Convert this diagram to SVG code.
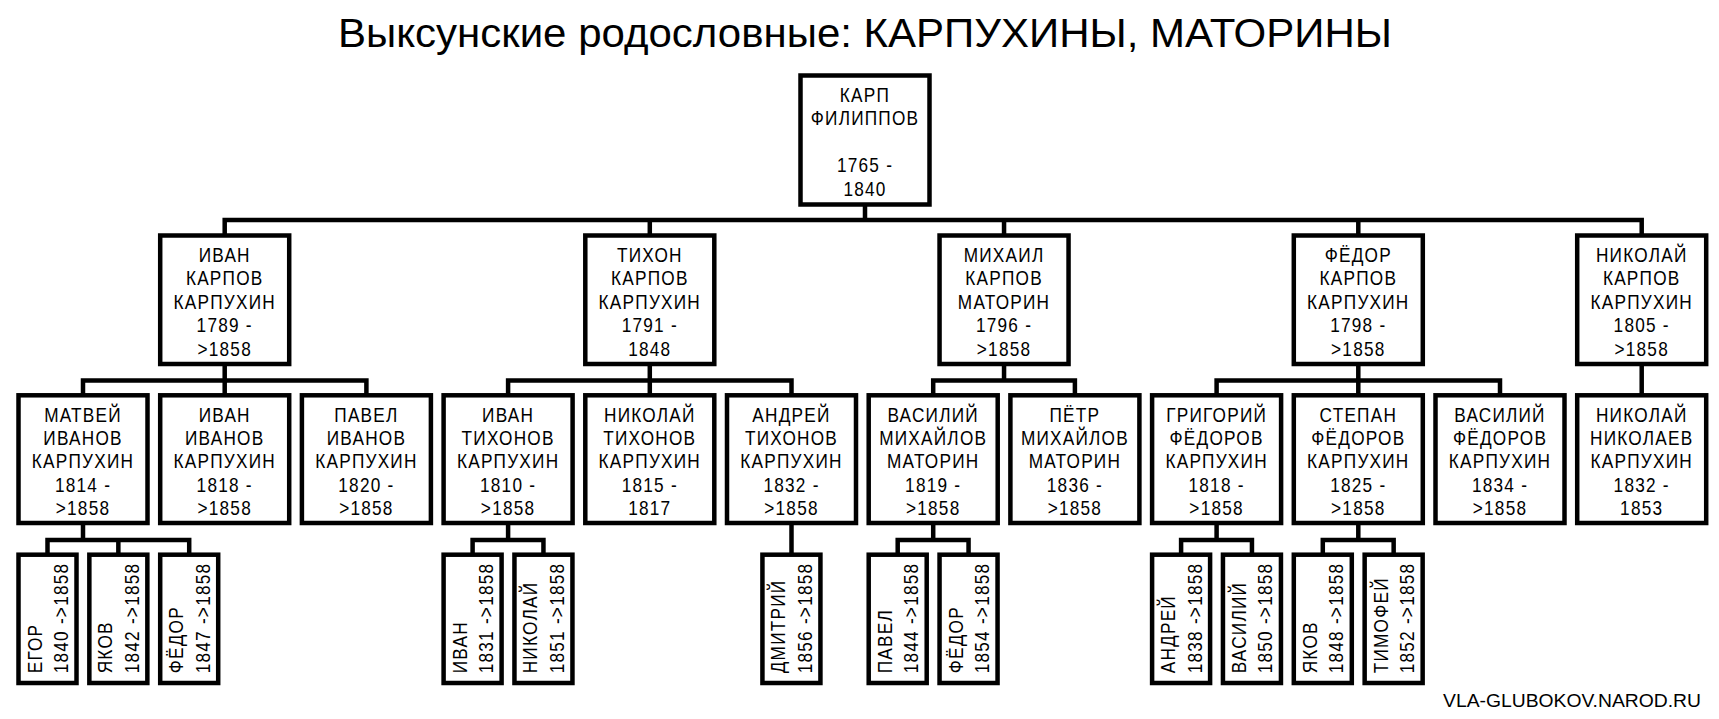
<svg xmlns="http://www.w3.org/2000/svg" width="1719" height="719" viewBox="0 0 1719 719">
<style>
.box{fill:#fff;stroke:#000;stroke-width:4.5}
.t{font-family:"Liberation Sans",Arial,sans-serif;font-size:21px;fill:#000;text-anchor:middle;letter-spacing:1.5px}
.v{font-family:"Liberation Sans",Arial,sans-serif;font-size:21px;fill:#000;letter-spacing:1.5px}
.title{font-family:"Liberation Sans",Arial,sans-serif;font-size:41px;fill:#000;text-anchor:middle}
.wm{font-family:"Liberation Sans",Arial,sans-serif;font-size:18px;fill:#000}
.c{fill:none;stroke:#000;stroke-width:4.5;stroke-linejoin:miter}
</style>
<rect width="1719" height="719" fill="#fff"/>
<text class="title" x="865" y="47" textLength="1054" lengthAdjust="spacingAndGlyphs">Выксунские родословные: КАРПУХИНЫ, МАТОРИНЫ</text>
<g id="connectors">
<path class="c" d="M865 205 V220 M224.7 235 V220 H1641.7 V235 M649.8 220 V235 M1004.05 220 V235 M1358.3 220 V235"/>
<path class="c" d="M224.7 364 V395 M83 395 V380.5 H366.4 V395"/>
<path class="c" d="M649.8 364 V395 M508.1 395 V380.5 H791.5 V395"/>
<path class="c" d="M1004.05 364 V380.5 M933.2 395 V380.5 H1074.9 V395"/>
<path class="c" d="M1358.3 364 V395 M1216.6 395 V380.5 H1500 V395"/>
<path class="c" d="M1641.7 364 V395"/>
<path class="c" d="M83 523 V540 M47.5 554 V540 H189.2 V554 M118.35 540 V554"/>
<path class="c" d="M508.1 523 V540 M472.6 554 V540 H543.45 V554"/>
<path class="c" d="M791.5 523 V554"/>
<path class="c" d="M933.2 523 V540 M897.7 554 V540 H968.55 V554"/>
<path class="c" d="M1216.6 523 V540 M1181.1 554 V540 H1251.95 V554"/>
<path class="c" d="M1358.3 523 V540 M1322.8 554 V540 H1393.65 V554"/>
</g>
<g id="n-karp">
<rect class="box" x="800.5" y="75.5" width="129" height="129"/>
<g transform="translate(865 0) scale(0.82 1)"><text class="t" x="0" y="101.7">КАРП</text><text class="t" x="0" y="125">ФИЛИППОВ</text><text class="t" x="0" y="172.5">1765 -</text><text class="t" x="0" y="196">1840</text></g>
</g>
<g id="n-ivan-karpov">
<rect class="box" x="160.2" y="235.5" width="129" height="128.5"/>
<g transform="translate(224.7 0) scale(0.82 1)"><text class="t" x="0" y="262">ИВАН</text><text class="t" x="0" y="285.4">КАРПОВ</text><text class="t" x="0" y="308.8">КАРПУХИН</text><text class="t" x="0" y="332.2">1789 -</text><text class="t" x="0" y="355.6">&gt;1858</text></g>
</g>
<g id="n-tihon-karpov">
<rect class="box" x="585.3" y="235.5" width="129" height="128.5"/>
<g transform="translate(649.8 0) scale(0.82 1)"><text class="t" x="0" y="262">ТИХОН</text><text class="t" x="0" y="285.4">КАРПОВ</text><text class="t" x="0" y="308.8">КАРПУХИН</text><text class="t" x="0" y="332.2">1791 -</text><text class="t" x="0" y="355.6">1848</text></g>
</g>
<g id="n-mihail-karpov">
<rect class="box" x="939.55" y="235.5" width="129" height="128.5"/>
<g transform="translate(1004.05 0) scale(0.82 1)"><text class="t" x="0" y="262">МИХАИЛ</text><text class="t" x="0" y="285.4">КАРПОВ</text><text class="t" x="0" y="308.8">МАТОРИН</text><text class="t" x="0" y="332.2">1796 -</text><text class="t" x="0" y="355.6">&gt;1858</text></g>
</g>
<g id="n-fedor-karpov">
<rect class="box" x="1293.8" y="235.5" width="129" height="128.5"/>
<g transform="translate(1358.3 0) scale(0.82 1)"><text class="t" x="0" y="262">ФЁДОР</text><text class="t" x="0" y="285.4">КАРПОВ</text><text class="t" x="0" y="308.8">КАРПУХИН</text><text class="t" x="0" y="332.2">1798 -</text><text class="t" x="0" y="355.6">&gt;1858</text></g>
</g>
<g id="n-nikolay-karpov">
<rect class="box" x="1577.2" y="235.5" width="129" height="128.5"/>
<g transform="translate(1641.7 0) scale(0.82 1)"><text class="t" x="0" y="262">НИКОЛАЙ</text><text class="t" x="0" y="285.4">КАРПОВ</text><text class="t" x="0" y="308.8">КАРПУХИН</text><text class="t" x="0" y="332.2">1805 -</text><text class="t" x="0" y="355.6">&gt;1858</text></g>
</g>
<g id="n-matvey">
<rect class="box" x="18.5" y="395.3" width="129" height="127.7"/>
<g transform="translate(83 0) scale(0.82 1)"><text class="t" x="0" y="421.7">МАТВЕЙ</text><text class="t" x="0" y="445.1">ИВАНОВ</text><text class="t" x="0" y="468.5">КАРПУХИН</text><text class="t" x="0" y="491.9">1814 -</text><text class="t" x="0" y="515.3">&gt;1858</text></g>
</g>
<g id="n-ivan-ivanov">
<rect class="box" x="160.2" y="395.3" width="129" height="127.7"/>
<g transform="translate(224.7 0) scale(0.82 1)"><text class="t" x="0" y="421.7">ИВАН</text><text class="t" x="0" y="445.1">ИВАНОВ</text><text class="t" x="0" y="468.5">КАРПУХИН</text><text class="t" x="0" y="491.9">1818 -</text><text class="t" x="0" y="515.3">&gt;1858</text></g>
</g>
<g id="n-pavel-ivanov">
<rect class="box" x="301.9" y="395.3" width="129" height="127.7"/>
<g transform="translate(366.4 0) scale(0.82 1)"><text class="t" x="0" y="421.7">ПАВЕЛ</text><text class="t" x="0" y="445.1">ИВАНОВ</text><text class="t" x="0" y="468.5">КАРПУХИН</text><text class="t" x="0" y="491.9">1820 -</text><text class="t" x="0" y="515.3">&gt;1858</text></g>
</g>
<g id="n-ivan-tihonov">
<rect class="box" x="443.6" y="395.3" width="129" height="127.7"/>
<g transform="translate(508.1 0) scale(0.82 1)"><text class="t" x="0" y="421.7">ИВАН</text><text class="t" x="0" y="445.1">ТИХОНОВ</text><text class="t" x="0" y="468.5">КАРПУХИН</text><text class="t" x="0" y="491.9">1810 -</text><text class="t" x="0" y="515.3">&gt;1858</text></g>
</g>
<g id="n-nikolay-tihonov">
<rect class="box" x="585.3" y="395.3" width="129" height="127.7"/>
<g transform="translate(649.8 0) scale(0.82 1)"><text class="t" x="0" y="421.7">НИКОЛАЙ</text><text class="t" x="0" y="445.1">ТИХОНОВ</text><text class="t" x="0" y="468.5">КАРПУХИН</text><text class="t" x="0" y="491.9">1815 -</text><text class="t" x="0" y="515.3">1817</text></g>
</g>
<g id="n-andrey-tihonov">
<rect class="box" x="727" y="395.3" width="129" height="127.7"/>
<g transform="translate(791.5 0) scale(0.82 1)"><text class="t" x="0" y="421.7">АНДРЕЙ</text><text class="t" x="0" y="445.1">ТИХОНОВ</text><text class="t" x="0" y="468.5">КАРПУХИН</text><text class="t" x="0" y="491.9">1832 -</text><text class="t" x="0" y="515.3">&gt;1858</text></g>
</g>
<g id="n-vasiliy-mihaylov">
<rect class="box" x="868.7" y="395.3" width="129" height="127.7"/>
<g transform="translate(933.2 0) scale(0.82 1)"><text class="t" x="0" y="421.7">ВАСИЛИЙ</text><text class="t" x="0" y="445.1">МИХАЙЛОВ</text><text class="t" x="0" y="468.5">МАТОРИН</text><text class="t" x="0" y="491.9">1819 -</text><text class="t" x="0" y="515.3">&gt;1858</text></g>
</g>
<g id="n-petr-mihaylov">
<rect class="box" x="1010.4" y="395.3" width="129" height="127.7"/>
<g transform="translate(1074.9 0) scale(0.82 1)"><text class="t" x="0" y="421.7">ПЁТР</text><text class="t" x="0" y="445.1">МИХАЙЛОВ</text><text class="t" x="0" y="468.5">МАТОРИН</text><text class="t" x="0" y="491.9">1836 -</text><text class="t" x="0" y="515.3">&gt;1858</text></g>
</g>
<g id="n-grigoriy-fedorov">
<rect class="box" x="1152.1" y="395.3" width="129" height="127.7"/>
<g transform="translate(1216.6 0) scale(0.82 1)"><text class="t" x="0" y="421.7">ГРИГОРИЙ</text><text class="t" x="0" y="445.1">ФЁДОРОВ</text><text class="t" x="0" y="468.5">КАРПУХИН</text><text class="t" x="0" y="491.9">1818 -</text><text class="t" x="0" y="515.3">&gt;1858</text></g>
</g>
<g id="n-stepan-fedorov">
<rect class="box" x="1293.8" y="395.3" width="129" height="127.7"/>
<g transform="translate(1358.3 0) scale(0.82 1)"><text class="t" x="0" y="421.7">СТЕПАН</text><text class="t" x="0" y="445.1">ФЁДОРОВ</text><text class="t" x="0" y="468.5">КАРПУХИН</text><text class="t" x="0" y="491.9">1825 -</text><text class="t" x="0" y="515.3">&gt;1858</text></g>
</g>
<g id="n-vasiliy-fedorov">
<rect class="box" x="1435.5" y="395.3" width="129" height="127.7"/>
<g transform="translate(1500 0) scale(0.82 1)"><text class="t" x="0" y="421.7">ВАСИЛИЙ</text><text class="t" x="0" y="445.1">ФЁДОРОВ</text><text class="t" x="0" y="468.5">КАРПУХИН</text><text class="t" x="0" y="491.9">1834 -</text><text class="t" x="0" y="515.3">&gt;1858</text></g>
</g>
<g id="n-nikolay-nikolaev">
<rect class="box" x="1577.2" y="395.3" width="129" height="127.7"/>
<g transform="translate(1641.7 0) scale(0.82 1)"><text class="t" x="0" y="421.7">НИКОЛАЙ</text><text class="t" x="0" y="445.1">НИКОЛАЕВ</text><text class="t" x="0" y="468.5">КАРПУХИН</text><text class="t" x="0" y="491.9">1832 -</text><text class="t" x="0" y="515.3">1853</text></g>
</g>
<g id="n-egor">
<rect class="box" x="18.5" y="554.7" width="58" height="128.3"/>
<text class="v" transform="translate(41.5 673.3) rotate(-90) scale(0.82 1)">ЕГОР</text>
<text class="v" transform="translate(68 673.3) rotate(-90) scale(0.82 1)">1840 -&gt;1858</text>
</g>
<g id="n-yakov-1842">
<rect class="box" x="89.35" y="554.7" width="58" height="128.3"/>
<text class="v" transform="translate(112.35 673.3) rotate(-90) scale(0.82 1)">ЯКОВ</text>
<text class="v" transform="translate(138.85 673.3) rotate(-90) scale(0.82 1)">1842 -&gt;1858</text>
</g>
<g id="n-fedor-1847">
<rect class="box" x="160.2" y="554.7" width="58" height="128.3"/>
<text class="v" transform="translate(183.2 673.3) rotate(-90) scale(0.82 1)">ФЁДОР</text>
<text class="v" transform="translate(209.7 673.3) rotate(-90) scale(0.82 1)">1847 -&gt;1858</text>
</g>
<g id="n-ivan-1831">
<rect class="box" x="443.6" y="554.7" width="58" height="128.3"/>
<text class="v" transform="translate(466.6 673.3) rotate(-90) scale(0.82 1)">ИВАН</text>
<text class="v" transform="translate(493.1 673.3) rotate(-90) scale(0.82 1)">1831 -&gt;1858</text>
</g>
<g id="n-nikolay-1851">
<rect class="box" x="514.45" y="554.7" width="58" height="128.3"/>
<text class="v" transform="translate(537.45 673.3) rotate(-90) scale(0.82 1)">НИКОЛАЙ</text>
<text class="v" transform="translate(563.95 673.3) rotate(-90) scale(0.82 1)">1851 -&gt;1858</text>
</g>
<g id="n-dmitriy-1856">
<rect class="box" x="762.43" y="554.7" width="58" height="128.3"/>
<text class="v" transform="translate(785.43 673.3) rotate(-90) scale(0.82 1)">ДМИТРИЙ</text>
<text class="v" transform="translate(811.93 673.3) rotate(-90) scale(0.82 1)">1856 -&gt;1858</text>
</g>
<g id="n-pavel-1844">
<rect class="box" x="868.7" y="554.7" width="58" height="128.3"/>
<text class="v" transform="translate(891.7 673.3) rotate(-90) scale(0.82 1)">ПАВЕЛ</text>
<text class="v" transform="translate(918.2 673.3) rotate(-90) scale(0.82 1)">1844 -&gt;1858</text>
</g>
<g id="n-fedor-1854">
<rect class="box" x="939.55" y="554.7" width="58" height="128.3"/>
<text class="v" transform="translate(962.55 673.3) rotate(-90) scale(0.82 1)">ФЁДОР</text>
<text class="v" transform="translate(989.05 673.3) rotate(-90) scale(0.82 1)">1854 -&gt;1858</text>
</g>
<g id="n-andrey-1838">
<rect class="box" x="1152.1" y="554.7" width="58" height="128.3"/>
<text class="v" transform="translate(1175.1 673.3) rotate(-90) scale(0.82 1)">АНДРЕЙ</text>
<text class="v" transform="translate(1201.6 673.3) rotate(-90) scale(0.82 1)">1838 -&gt;1858</text>
</g>
<g id="n-vasiliy-1850">
<rect class="box" x="1222.95" y="554.7" width="58" height="128.3"/>
<text class="v" transform="translate(1245.95 673.3) rotate(-90) scale(0.82 1)">ВАСИЛИЙ</text>
<text class="v" transform="translate(1272.45 673.3) rotate(-90) scale(0.82 1)">1850 -&gt;1858</text>
</g>
<g id="n-yakov-1848">
<rect class="box" x="1293.8" y="554.7" width="58" height="128.3"/>
<text class="v" transform="translate(1316.8 673.3) rotate(-90) scale(0.82 1)">ЯКОВ</text>
<text class="v" transform="translate(1343.3 673.3) rotate(-90) scale(0.82 1)">1848 -&gt;1858</text>
</g>
<g id="n-timofey-1852">
<rect class="box" x="1364.65" y="554.7" width="58" height="128.3"/>
<text class="v" transform="translate(1387.65 673.3) rotate(-90) scale(0.82 1)">ТИМОФЕЙ</text>
<text class="v" transform="translate(1414.15 673.3) rotate(-90) scale(0.82 1)">1852 -&gt;1858</text>
</g>
<text class="wm" x="1443" y="706.5" textLength="258" lengthAdjust="spacingAndGlyphs">VLA-GLUBOKOV.NAROD.RU</text>
</svg>
